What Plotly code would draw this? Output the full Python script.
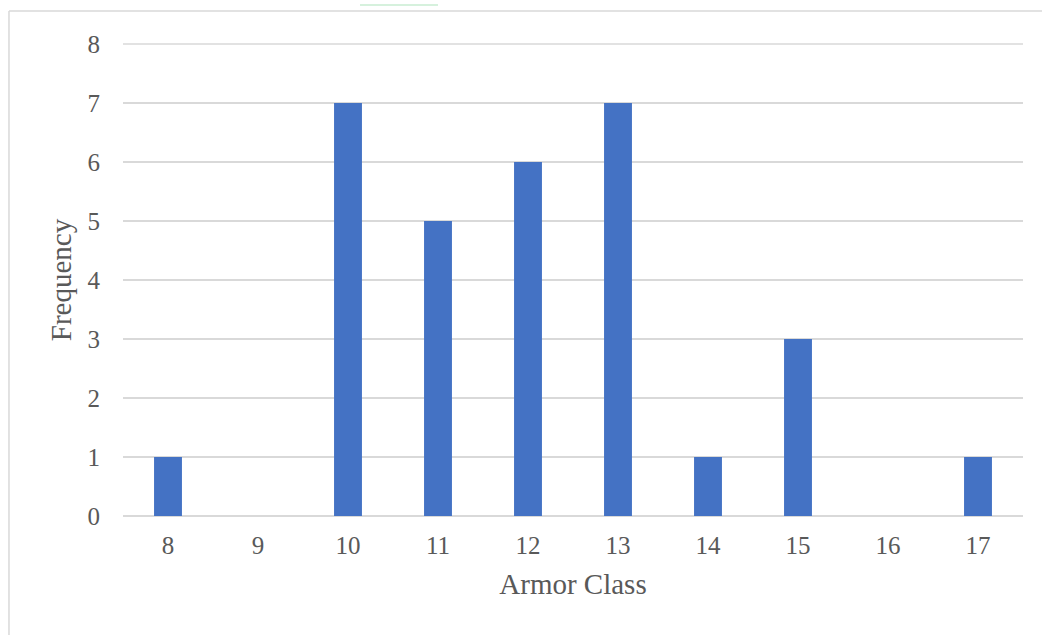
import plotly.graph_objects as go

armor_class = ["8", "9", "10", "11", "12", "13", "14", "15", "16", "17"]
frequency = [1, 0, 7, 5, 6, 7, 1, 3, 0, 1]
y_ticks = [0, 1, 2, 3, 4, 5, 6, 7, 8]
y_max = 8

FONT = "Liberation Serif, Times New Roman, serif"
TEXT = "#595959"
GRID = "#d9d9d9"

fig = go.Figure(
    go.Bar(
        x=armor_class,
        y=frequency,
        marker=dict(color="#4472c4", line=dict(width=0)),
    )
)

fig.update_layout(
    width=1042,
    height=635,
    margin=dict(l=123, r=19, t=44, b=119),
    paper_bgcolor="white",
    plot_bgcolor="white",
    bargap=0.69,
    showlegend=False,
    font=dict(family=FONT, color=TEXT, size=25),
    xaxis=dict(
        type="category",
        showgrid=False,
        showline=False,
        ticks="",
        tickfont=dict(size=25, color=TEXT),
        ticklabelstandoff=12,
        title=dict(text="Armor Class", font=dict(size=29, color=TEXT), standoff=15),
    ),
    yaxis=dict(
        range=[0, y_max],
        tickvals=y_ticks,
        showgrid=True,
        gridcolor=GRID,
        gridwidth=1.5,
        zeroline=True,
        zerolinecolor=GRID,
        zerolinewidth=1.5,
        showline=False,
        ticks="",
        tickfont=dict(size=25, color=TEXT),
        ticklabelstandoff=22,
        title=dict(text="Frequency", font=dict(size=29, color=TEXT), standoff=7),
    ),
    shapes=[
        # gridline along the top of the value range (unclipped)
        dict(type="line", xref="paper", yref="paper", layer="below",
             x0=0, x1=1, y0=1, y1=1,
             line=dict(color=GRID, width=1.5)),
        # outer chart frame (top and left edges)
        dict(type="line", xref="paper", yref="paper",
             x0=-0.1267, x1=1.05, y0=1.0699, y1=1.0699,
             line=dict(color=GRID, width=1.5)),
        dict(type="line", xref="paper", yref="paper",
             x0=-0.1267, x1=-0.1267, y0=-0.3, y1=1.0699,
             line=dict(color=GRID, width=1.5)),
        # thin green accent above the frame
        dict(type="line", xref="paper", yref="paper",
             x0=0.2633, x1=0.35, y0=1.0826, y1=1.0826,
             line=dict(color="#c8ecd2", width=1.5)),
    ],
)

fig.write_html("out.html")
